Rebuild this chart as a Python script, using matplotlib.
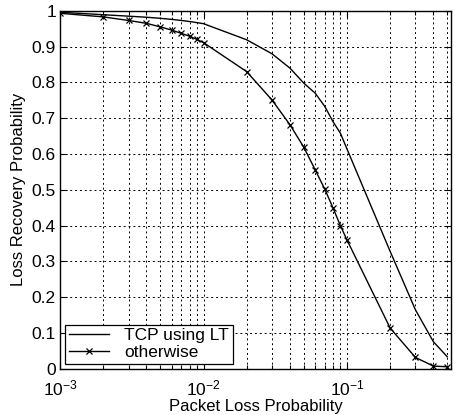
import numpy as np
import matplotlib.pyplot as plt
from matplotlib.ticker import FixedLocator, LogLocator, NullFormatter

plt.rcParams['font.family'] = ['Liberation Sans', 'DejaVu Sans']
plt.rcParams['mathtext.fontset'] = 'custom'
plt.rcParams['mathtext.rm'] = 'Liberation Sans'
plt.rcParams['mathtext.it'] = 'Liberation Sans'

# packet loss probability sample points
p_loss = [0.001, 0.002, 0.003, 0.004, 0.005, 0.006, 0.007, 0.008, 0.009,
          0.01, 0.02, 0.03, 0.04, 0.05, 0.06, 0.07, 0.08, 0.09,
          0.1, 0.2, 0.3, 0.4, 0.5]

# loss recovery probability, TCP using LT
tcp_lt = [0.996, 0.989, 0.985, 0.982, 0.979, 0.976, 0.973, 0.970, 0.967,
          0.964, 0.919, 0.880, 0.840, 0.798, 0.770, 0.733, 0.690, 0.658,
          0.614, 0.328, 0.165, 0.076, 0.034]

# loss recovery probability, otherwise
otherwise = [0.993, 0.983, 0.973, 0.965, 0.955, 0.946, 0.937, 0.929, 0.920,
             0.911, 0.830, 0.751, 0.682, 0.619, 0.556, 0.502, 0.449, 0.400,
             0.360, 0.114, 0.032, 0.008, 0.006]

fig = plt.figure(figsize=(4.55, 4.15), dpi=100)
ax = fig.add_axes([0.132, 0.111, 0.859, 0.863])

ax.plot(p_loss, tcp_lt, color='black', lw=1.0, label='TCP using LT')
ax.plot(p_loss, otherwise, color='black', lw=1.0, marker='x', ms=4,
        mew=0.9, label='otherwise')

ax.set_xscale('log')
ax.set_xlim(1e-3, 0.53)
ax.set_ylim(0, 1)
ax.xaxis.set_major_locator(LogLocator(base=10, numticks=10))
ax.xaxis.set_minor_locator(LogLocator(base=10, subs=np.arange(2, 10), numticks=20))
ax.xaxis.set_minor_formatter(NullFormatter())
ax.yaxis.set_major_locator(FixedLocator(np.round(np.arange(0, 1.01, 0.1), 1)))
ax.set_yticklabels(['0', '0.1', '0.2', '0.3', '0.4', '0.5', '0.6', '0.7',
                    '0.8', '0.9', '1'])

ax.grid(True, which='both', axis='x', color='black', ls=(0, (2, 3)), lw=0.7)
ax.grid(True, which='major', axis='y', color='black', ls=(0, (2, 3)), lw=0.7)

ax.tick_params(which='both', direction='in', top=True, right=True,
               labelsize=12.5, width=0.8)
ax.tick_params(which='major', length=5)
ax.tick_params(which='minor', length=3)
ax.tick_params(axis='x', which='major', pad=7)
ax.tick_params(axis='y', which='major', pad=3)
for s in ax.spines.values():
    s.set_linewidth(1.0)

ax.set_xlabel('Packet Loss Probability', fontsize=12, labelpad=0)
ax.set_ylabel('Loss Recovery Probability', fontsize=12, labelpad=4)

leg = ax.legend(loc='lower left', fontsize=12.5, fancybox=False,
                edgecolor='black', framealpha=1, borderaxespad=0.3,
                handlelength=2.3, handletextpad=0.9, borderpad=0.2,
                labelspacing=0.1)
leg.get_frame().set_linewidth(0.9)

fig.savefig('out.png', dpi=100)
